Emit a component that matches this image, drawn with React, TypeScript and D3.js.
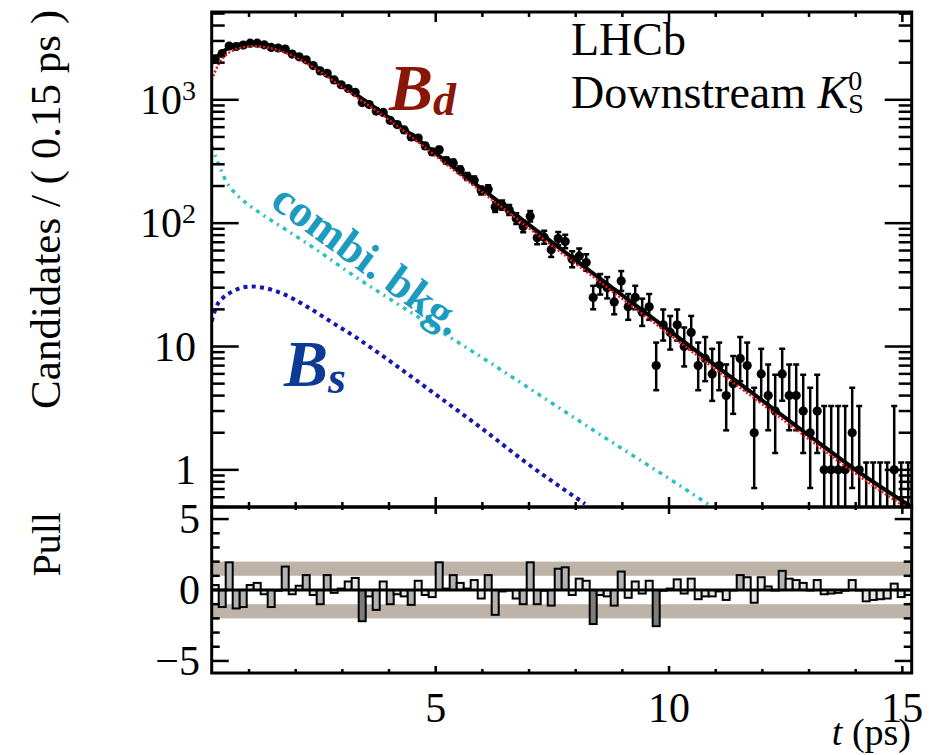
import React from "react";
import * as d3 from "d3";

const T_START = 0.2;
const BIN_WIDTH = 0.15;

const counts = [
  2150, 2370, 2730, 2700, 2780, 2880, 2880, 2790, 2660, 2630,
  2580, 2350, 2230, 2110, 1895, 1715, 1640, 1450, 1325, 1235,
  1150, 950, 915, 810, 790, 680, 630, 570, 500, 490,
  423, 378, 393, 322, 308, 270, 239, 223, 184, 188,
  135, 140, 128, 109, 94, 114, 76, 77, 61, 75,
  71, 51, 54, 48, 25, 32, 30, 23, 34, 21,
  25, 19, 21, 7, 15, 13, 15, 10, 13, 7,
  8, 6, 7, 4, 5, 8, 7, 2, 6, 4,
  3, 6, 4, 4, 3, 2, 3, 1, 1, 1,
  1, 2, 1, 0, 0, 0, 0, 1, 0, 0,
];

const pulls = [
  0.35, -1.2, 1.95, -1.3, -1.2, 0.35, 0.5, -0.3, -1.2, -0.05,
  1.65, -0.3, 0.3, 1.05, -0.35, -1.0, 1.05, -0.2, 0.1, 0.6,
  0.85, -2.2, -0.45, -1.4, 0.6, -1.0, -0.3, -0.45, -1.05, 0.65,
  -0.35, -0.5, 1.95, 0.1, 1.05, 0.5, 0.1, 0.7, -0.6, 1.05,
  -1.75, -0.1, 0.0, -0.6, -1.0, 1.95, -1.0, -0.05, -1.1, 1.5,
  1.6, -0.35, 0.8, 0.65, -2.4, -0.35, -0.45, -1.1, 1.3, -0.55,
  0.6, -0.25, 0.65, -2.55, -0.05, 0.1, 0.75, -0.25, 0.8, -0.65,
  -0.45, -0.45, -0.1, -0.7, 0.0, 1.05, 0.9, -0.9, 0.9, 0.25,
  0.0, 1.35, 0.8, 0.7, 0.5, 0.0, 0.7, -0.3, -0.25, -0.2,
  -0.05, 0.7, 0.0, -0.8, -0.7, -0.65, -0.6, 0.45, -0.5, -0.35,
];

const fitT = [0.2, 0.35, 0.5, 0.7, 0.9, 1.1, 1.3, 1.6, 2.0, 2.5, 3.0, 3.5, 4.0, 4.5, 5.0, 6.0, 7.0, 8.0, 9.0, 10, 11, 12, 13, 14, 15.2];
const fitTotal = [1980, 2300, 2550, 2750, 2850, 2870, 2820, 2650, 2300, 1780, 1310, 975, 715, 515, 368, 188, 97, 50, 26, 13.5, 7.0, 3.65, 1.9, 1.0, 0.5];
const fitBd = [1450, 1950, 2300, 2550, 2680, 2720, 2690, 2540, 2210, 1710, 1260, 935, 688, 494, 350, 178, 91, 47, 24.3, 12.6, 6.5, 3.4, 1.77, 0.93, 0.46];

const bkgT = [0.2, 0.35, 0.5, 0.75, 1.0, 1.4, 1.8, 2.5, 3.2, 4.0, 5.0, 6.0, 7.0, 8.0, 9.0, 10.0, 11.0];
const bkgVals = [420, 300, 222, 168, 140, 110, 88, 59, 38.5, 24.5, 14.1, 8.1, 4.6, 2.6, 1.48, 0.85, 0.48];

const bsT = [0.2, 0.3, 0.45, 0.65, 0.85, 1.05, 1.3, 1.7, 2.2, 2.8, 3.3, 3.9, 4.9, 6.0, 7.0, 8.2];
const bsVals = [16, 21, 25, 28, 30, 30.7, 30, 27, 21.5, 15.5, 11.8, 8.2, 4.35, 2.15, 1.1, 0.53];

const mainMajorTicks = [1, 10, 100, 1000];
const mainTickLabels = [
  { v: 1, base: "1", exp: "" },
  { v: 10, base: "10", exp: "" },
  { v: 100, base: "10", exp: "2" },
  { v: 1000, base: "10", exp: "3" },
];
const xTickLabels = [5, 10, 15];
const pullTickLabels = [
  { v: 5, label: "5" },
  { v: 0, label: "0" },
  { v: -5, label: "\u22125" },
];
const ZERO_UP = 1.15;

const FONT = "'Liberation Serif', 'DejaVu Serif', serif";

function errUp(n: number) {
  const m = n + 1;
  return m * Math.pow(1 - 1 / (9 * m) + 1 / (3 * Math.sqrt(m)), 3);
}
function errLow(n: number) {
  return n * Math.pow(1 - 1 / (9 * n) - 1 / (3 * Math.sqrt(n)), 3);
}

export default function App() {
  const L = 211.7, R = 911.7, T = 12, MB = 507, PB = 673;
  const x = d3.scaleLinear().domain([T_START, T_START + BIN_WIDTH * counts.length]).range([L, R]);
  const y = d3.scaleLog().domain([0.5, 5150]).range([MB, T]);
  const yp = d3.scaleLinear().domain([-5.85, 5.85]).range([PB, MB]);

  const line = d3
    .line<[number, number]>()
    .x((d) => x(d[0]))
    .y((d) => y(d[1]))
    .curve(d3.curveMonotoneX);

  const totalPath = line(fitT.map((t, i) => [t, fitTotal[i]] as [number, number])) || "";
  const bdPath = line(fitT.map((t, i) => [t, fitBd[i]] as [number, number])) || "";
  const bkgPath = line(bkgT.map((t, i) => [t, bkgVals[i]] as [number, number])) || "";
  const bsPath = line(bsT.map((t, i) => [t, bsVals[i]] as [number, number])) || "";

  const minorY: number[] = [];
  [0.1, 1, 10, 100, 1000].forEach((d) => {
    for (let m = 2; m <= 9; m++) {
      const v = d * m;
      if (v >= 0.5 && v <= 5150) minorY.push(v);
    }
  });
  const xTicks = d3.range(1, 16);
  const pullTicks = d3.range(-5, 6);

  const tickStroke = { stroke: "#000", strokeWidth: 2.5 };

  const points = counts.map((n, i) => {
    const tc = T_START + BIN_WIDTH * (i + 0.5);
    const cx = x(tc);
    const hx0 = x(T_START + BIN_WIDTH * i);
    const hx1 = x(T_START + BIN_WIDTH * (i + 1));
    if (n === 0) {
      const yt = y(ZERO_UP);
      return (
        <g key={i}>
          <line x1={cx} x2={cx} y1={MB} y2={yt} stroke="#000" strokeWidth={2.5} />
          <line x1={cx - 3} x2={cx + 3} y1={yt} y2={yt} stroke="#000" strokeWidth={2.5} />
        </g>
      );
    }
    const cy = y(n);
    const yHi = y(errUp(n));
    const yLo = Math.min(MB, y(Math.max(errLow(n), 0.01)));
    return (
      <g key={i}>
        <line x1={cx} x2={cx} y1={yLo} y2={yHi} stroke="#000" strokeWidth={2.5} />
        <line x1={cx - 3} x2={cx + 3} y1={yHi} y2={yHi} stroke="#000" strokeWidth={2.5} />
        {yLo < MB - 1 && <line x1={cx - 3} x2={cx + 3} y1={yLo} y2={yLo} stroke="#000" strokeWidth={2.5} />}
        <line x1={hx0} x2={hx1} y1={cy} y2={cy} stroke="#000" strokeWidth={2.5} />
        <circle cx={cx} cy={cy} r={4.6} fill="#000" />
      </g>
    );
  });

  const pullBars = pulls.map((p, i) => {
    const x0 = x(T_START + BIN_WIDTH * i);
    const x1 = x(T_START + BIN_WIDTH * (i + 1));
    const ya = yp(Math.max(p, 0));
    const yb = yp(Math.min(p, 0));
    const a = Math.abs(p);
    const fill = a > 2 ? "#7d7d7d" : a >= 1 ? "#b2b2b2" : "#e6e6e6";
    return <rect key={i} x={x0} y={ya} width={x1 - x0} height={Math.max(yb - ya, 0.5)} fill={fill} stroke="#000" strokeWidth={2} />;
  });

  return (
    <svg
      width={933}
      height={755}
      style={{ position: "absolute", left: 0, top: 0, background: "#fff" }}
      fontFamily={FONT}
    >
      <defs>
        <clipPath id="mainClip">
          <rect x={L} y={T} width={R - L} height={MB - T} />
        </clipPath>
        <clipPath id="pullClip">
          <rect x={L} y={MB} width={R - L} height={PB - MB} />
        </clipPath>
      </defs>
      <rect x={0} y={0} width={933} height={755} fill="#fff" />

      <g clipPath="url(#mainClip)">
        <path d={bkgPath} fill="none" stroke="#2cc0c0" strokeWidth={3.5} strokeDasharray="4 5 2 5" />
        <path d={bsPath} fill="none" stroke="#1616b0" strokeWidth={4} strokeDasharray="4 4.3" />
        {points}
        <path d={totalPath} fill="none" stroke="#000" strokeWidth={4} />
        <path d={bdPath} fill="none" stroke="#e31a1a" strokeWidth={2.5} strokeDasharray="2 2" />
      </g>

      <g clipPath="url(#pullClip)">
        <rect x={L} y={yp(2)} width={R - L} height={yp(1) - yp(2)} fill="#beb3a8" />
        <rect x={L} y={yp(-1)} width={R - L} height={yp(-2) - yp(-1)} fill="#beb3a8" />
        {pullBars}
        <line x1={L} x2={R} y1={yp(0)} y2={yp(0)} stroke="#000" strokeWidth={3} />
      </g>

      <rect x={L} y={T} width={R - L} height={MB - T} fill="none" stroke="#000" strokeWidth={3} />
      <rect x={L} y={MB} width={R - L} height={PB - MB} fill="none" stroke="#000" strokeWidth={3} />

      {mainMajorTicks.map((v) => (
        <g key={"mj" + v}>
          <line x1={L} x2={L + 27} y1={y(v)} y2={y(v)} {...tickStroke} />
          <line x1={R} x2={R - 27} y1={y(v)} y2={y(v)} {...tickStroke} />
        </g>
      ))}
      {minorY.map((v) => (
        <g key={"mn" + v}>
          <line x1={L} x2={L + 13} y1={y(v)} y2={y(v)} {...tickStroke} />
          <line x1={R} x2={R - 13} y1={y(v)} y2={y(v)} {...tickStroke} />
        </g>
      ))}

      {xTicks.map((t) => {
        const major = t % 5 === 0;
        const xx = x(t);
        return (
          <g key={"xt" + t}>
            <line x1={xx} x2={xx} y1={T} y2={T + (major ? 10 : 5)} {...tickStroke} />
            <line x1={xx} x2={xx} y1={MB} y2={MB - (major ? 10 : 5)} {...tickStroke} />
            <line x1={xx} x2={xx} y1={MB} y2={MB + (major ? 7 : 3)} {...tickStroke} />
            <line x1={xx} x2={xx} y1={PB} y2={PB - (major ? 7 : 4)} {...tickStroke} />
          </g>
        );
      })}

      {pullTicks.map((v) => {
        const major = v % 5 === 0;
        const yy = yp(v);
        return (
          <g key={"pt" + v}>
            <line x1={L} x2={L + (major ? 17 : 8)} y1={yy} y2={yy} {...tickStroke} />
            <line x1={R} x2={R - (major ? 17 : 8)} y1={yy} y2={yy} {...tickStroke} />
          </g>
        );
      })}

      {mainTickLabels.map((d) => (
        <text key={"ml" + d.v} x={196} y={y(d.v) + 14} textAnchor="end" fontSize={42}>
          {d.base}
          {d.exp && (
            <tspan fontSize={28} dy={-14}>
              {d.exp}
            </tspan>
          )}
        </text>
      ))}
      {xTickLabels.map((v) => (
        <text key={"xl" + v} x={x(v)} y={722} textAnchor="middle" fontSize={42}>
          {v}
        </text>
      ))}
      {pullTickLabels.map((d) => (
        <text key={"pl" + d.v} x={200} y={yp(d.v) + 14} textAnchor="end" fontSize={42}>
          {d.label}
        </text>
      ))}

      <text transform="translate(60,10) rotate(-90)" textAnchor="end" fontSize={43}>
        Candidates / ( 0.15 ps )
      </text>
      <text transform="translate(60,512) rotate(-90)" textAnchor="end" fontSize={40}>
        Pull
      </text>
      <text x={911} y={745} textAnchor="end" fontSize={38}>
        <tspan fontStyle="italic">t</tspan> (ps)
      </text>

      <text x={571} y={55} fontSize={46}>
        LHCb
      </text>
      <text x={571} y={108} fontSize={46}>
        Downstream <tspan fontStyle="italic">K</tspan>
        <tspan fontSize={28} dy={5}>S</tspan>
        <tspan fontSize={28} dx={-15.6} dy={-23}>0</tspan>
      </text>
      <text x={389} y={110} fontSize={66} fontWeight="bold" fontStyle="italic" fill="#8a1608">
        B<tspan fontSize={46} dy={5}>d</tspan>
      </text>
      <text x={284} y={386} fontSize={66} fontWeight="bold" fontStyle="italic" fill="#0c3a94">
        B<tspan fontSize={46} dy={7}>s</tspan>
      </text>
      <text
        transform="translate(366,262) rotate(36)"
        textAnchor="middle"
        dy="0.25em"
        fontSize={45}
        fontWeight="bold"
        fill="#1b9bbd"
      >
        combi. bkg.
      </text>
    </svg>
  );
}
